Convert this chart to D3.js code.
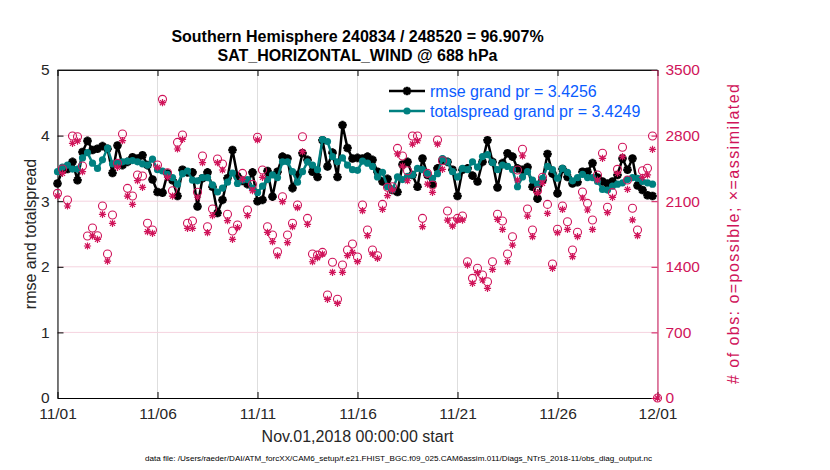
<!DOCTYPE html>
<html lang="en">
<head>
<meta charset="UTF-8">
<title>obs_diag time series</title>
<script src="https://cdn.jsdelivr.net/npm/d3@7"></script>
<style>
    body { margin: 0; background: #fff; }
    svg { font-family: "Liberation Sans", Arial, Helvetica, sans-serif; }
    .tick text { font-size: 15.5px; }
</style>
</head>
<body>
<svg id="chart" width="830" height="470"></svg>
<script>
// 6-hourly bins starting 2018-11-01 00:00 UTC
var startDate = new Date(Date.UTC(2018, 10, 1));
var endDate = new Date(Date.UTC(2018, 11, 1));
var stepHours = 6;

var titleLines = ["Southern Hemisphere 240834 / 248520 = 96.907%", "SAT_HORIZONTAL_WIND @ 688 hPa"];
var xTickLabels = ["11/01", "11/06", "11/11", "11/16", "11/21", "11/26", "12/01"];
var leftTicks = [0, 1, 2, 3, 4, 5];
var rightTicks = [0, 700, 1400, 2100, 2800, 3500];
var legendLabels = ["rmse grand pr = 3.4256", "totalspread grand pr = 3.4249"];

var rmse = [
    3.27, 3.48, 3.49, 3.60, 3.32, 3.75, 3.92, 3.78, 3.80, 3.84, 3.80, 3.43, 3.85, 3.55, 3.60, 3.67,
    3.65, 3.70, 3.55, 3.33, 3.14, 3.13, 3.42, 3.32, 3.08, 3.48, 3.44, 3.44, 2.92, 3.35, 3.44,
    3.22, 2.82, 3.02, 3.35, 3.78, 3.38, 3.31, 3.26, 3.44, 3.00, 3.02, 3.46, 3.07, 3.45, 3.68,
    3.65, 3.20, 3.40, 3.73, 3.63, 3.45, 3.37, 3.93, 3.53, 3.74, 3.37, 4.16, 3.81, 3.65, 3.66,
    3.65, 3.68, 3.63, 3.45, 3.30, 3.34, 3.17, 3.14, 3.56, 3.60, 3.40, 3.22, 3.65, 3.40, 3.26,
    3.50, 3.63, 3.60, 3.48, 3.08, 3.48, 3.50, 3.39, 3.30, 3.60, 3.93, 3.60, 3.21, 3.58, 3.73,
    3.68, 3.50, 3.48, 3.52, 3.22, 3.04, 3.32, 3.72, 3.42, 3.12, 3.49, 3.37, 3.27, 3.29, 3.45,
    3.45, 3.58, 3.36, 3.30, 3.27, 3.30, 3.40, 3.65, 3.48, 3.65, 3.24, 3.17, 3.09, 3.08
];

var totalspread = [
    3.45, 3.52, 3.55, 3.49, 3.49, 3.66, 3.74, 3.58, 3.50, 3.63, 3.81, 3.57, 3.59, 3.60, 3.61, 3.62,
    3.60, 3.57, 3.55, 3.64, 3.48, 3.46, 3.41, 3.36, 3.26, 3.42, 3.46, 3.32, 3.31, 3.36, 3.36,
    3.25, 3.14, 3.20, 3.29, 3.43, 3.27, 3.32, 3.33, 3.20, 3.13, 3.23, 3.33, 3.40, 3.36, 3.60,
    3.60, 3.45, 3.29, 3.45, 3.60, 3.55, 3.48, 3.94, 3.91, 3.68, 3.60, 3.66, 3.55, 3.48, 3.47,
    3.61, 3.58, 3.53, 3.37, 3.44, 3.22, 3.18, 3.37, 3.33, 3.38, 3.40, 3.50, 3.48, 3.42, 3.35,
    3.42, 3.65, 3.60, 3.45, 3.37, 3.50, 3.48, 3.60, 3.52, 3.68, 3.71, 3.59, 3.48, 3.55, 3.53,
    3.48, 3.22, 3.37, 3.45, 3.32, 3.26, 3.35, 3.53, 3.48, 3.35, 3.50, 3.44, 3.31, 3.36, 3.41,
    3.36, 3.36, 3.30, 3.18, 3.17, 3.23, 3.26, 3.28, 3.33, 3.36, 3.35, 3.30, 3.28, 3.26
];

var obsPossible = [
    2184, 2443, 2113, 2796, 2788, 2475, 1729, 1814, 1732, 2049, 1536, 1953, 2504, 2817, 2237, 2155,
    2379, 2369, 1864, 1793, 2486, 3187, 2404, 2212, 2728, 2806, 1864, 1888, 2195, 2582, 1828,
    2017, 2550, 2497, 1960, 1782, 1846, 2397, 2006, 2280, 2782, 2433, 1828, 1739, 1561, 2148,
    1739, 1864, 2059, 2788, 1917, 1536, 1525, 1554, 1099, 1448, 1053, 1419, 1579, 1643, 1505,
    2059, 1792, 1579, 1518, 2066, 2248, 2254, 2664, 2582, 2425, 2795, 2795, 1917, 2397, 2272,
    2753, 2532, 1995, 1881, 1917, 1942, 1454, 1277, 1384, 1312, 1241, 1454, 1960, 1888, 1536,
    1721, 2433, 2654, 2016, 1792, 2212, 2355, 2066, 1430, 1800, 2048, 1881, 1579, 1768, 2198,
    2077, 1899, 2379, 2611, 2035, 2191, 2440, 2675, 2326, 2024, 1792, 2425, 2451, 2795, 0
];

var obsAssimilated = [
    2156, 2397, 2049, 2718, 2742, 2415, 1622, 1729, 1693, 1960, 1461, 1864, 2461, 2746, 2155, 2066,
    2319, 2248, 1775, 1757, 2461, 3151, 2354, 2155, 2657, 2760, 1811, 1810, 2142, 2511, 1764,
    1946, 2511, 2433, 1892, 1693, 1818, 2333, 1946, 2212, 2754, 2355, 1768, 1668, 1518, 2095,
    1657, 1828, 2031, 2628, 1853, 1454, 1497, 1536, 1053, 1341, 1010, 1341, 1519, 1554, 1455,
    1999, 1732, 1536, 1490, 2013, 2159, 2218, 2604, 2475, 2318, 2710, 2745, 1828, 2283, 2194,
    2710, 2440, 1899, 1835, 1899, 1899, 1418, 1224, 1338, 1259, 1170, 1372, 1907, 1799, 1454,
    1632, 2326, 2583, 1941, 1721, 2191, 2291, 1970, 1384, 1764, 2012, 1799, 1508, 1722, 2134,
    2006, 1799, 2326, 2558, 1978, 2141, 2397, 2575, 2226, 1900, 1732, 2354, 2380, 2653, 0
];

(function () {
    var svg = d3.select("#chart");
    var left = 57.5, right = 657.5, top = 70, bottom = 398;
    var crimson = "#d0145a", teal = "#008080", blue = "#0a5cff";

    function timeAt(i) {
        return new Date(startDate.getTime() + i * stepHours * 3600 * 1000);
    }

    var x = d3.scaleUtc().domain([startDate, endDate]).range([left, right]);
    var yL = d3.scaleLinear().domain([0, 5]).range([bottom, top]);
    var yR = d3.scaleLinear().domain([0, 3500]).range([bottom, top]);
    var parseTick = d3.utcParse("%m/%d/%Y");
    var tickDates = xTickLabels.map(function (t) { return parseTick(t + "/2018"); });

    // grid
    svg.append("g").selectAll("line").data(tickDates).enter().append("line")
        .attr("x1", function (d) { return x(d); }).attr("x2", function (d) { return x(d); })
        .attr("y1", top).attr("y2", bottom)
        .attr("stroke", "#dedede").attr("stroke-width", 1);
    svg.append("g").selectAll("line").data(rightTicks.slice(1, -1)).enter().append("line")
        .attr("x1", left).attr("x2", right)
        .attr("y1", function (d) { return yR(d); }).attr("y2", function (d) { return yR(d); })
        .attr("stroke", "#f5d3df").attr("stroke-width", 1);

    // axes
    var xAxis = svg.append("g").attr("transform", "translate(0," + bottom + ")")
        .call(d3.axisBottom(x).tickValues(tickDates).tickFormat(function (d, i) { return xTickLabels[i]; })
            .tickSizeInner(-6).tickSizeOuter(0).tickPadding(10));
    xAxis.selectAll("text").attr("fill", "#262626");
    svg.append("g").attr("transform", "translate(0," + top + ")")
        .call(d3.axisTop(x).tickValues(tickDates).tickFormat("").tickSizeInner(-6).tickSizeOuter(0));

    var lAxis = svg.append("g").attr("transform", "translate(" + left + ",0)")
        .call(d3.axisLeft(yL).tickValues(leftTicks).tickFormat(d3.format("d"))
            .tickSizeInner(-6).tickSizeOuter(0).tickPadding(8));
    lAxis.selectAll("text").attr("fill", "#262626");

    var rAxis = svg.append("g").attr("transform", "translate(" + right + ",0)")
        .call(d3.axisRight(yR).tickValues(rightTicks).tickFormat(d3.format("d"))
            .tickSizeInner(-6).tickSizeOuter(0).tickPadding(8));
    rAxis.select(".domain").attr("stroke", crimson);
    rAxis.selectAll(".tick line").attr("stroke", crimson);
    rAxis.selectAll("text").attr("fill", crimson);

    function star(s) {
        var a = s * 0.7071;
        return "M" + (-s) + ",0L" + s + ",0M0," + (-s) + "L0," + s +
            "M" + (-a) + "," + (-a) + "L" + a + "," + a + "M" + (-a) + "," + a + "L" + a + "," + (-a);
    }

    // rmse and spread lines
    var valueLine = d3.line().x(function (d, i) { return x(timeAt(i)); }).y(function (d) { return yL(d); });
    svg.append("path").datum(rmse).attr("d", valueLine)
        .attr("fill", "none").attr("stroke", "#000").attr("stroke-width", 2.5);
    svg.append("g").selectAll("path").data(rmse).enter().append("path")
        .attr("transform", function (d, i) { return "translate(" + x(timeAt(i)) + "," + yL(d) + ")"; })
        .attr("d", star(4.3)).attr("stroke", "#000").attr("stroke-width", 2.6).attr("fill", "none");

    svg.append("path").datum(totalspread).attr("d", valueLine)
        .attr("fill", "none").attr("stroke", teal).attr("stroke-width", 2.5);
    svg.append("g").selectAll("circle").data(totalspread).enter().append("circle")
        .attr("cx", function (d, i) { return x(timeAt(i)); })
        .attr("cy", function (d) { return yL(d); })
        .attr("r", 3.6).attr("fill", teal);

    // obs counts
    svg.append("g").selectAll("circle").data(obsPossible).enter().append("circle")
        .attr("cx", function (d, i) { return x(timeAt(i)); })
        .attr("cy", function (d) { return yR(d); })
        .attr("r", 4).attr("fill", "none").attr("stroke", crimson).attr("stroke-width", 1.1);
    svg.append("g").selectAll("path").data(obsAssimilated).enter().append("path")
        .attr("transform", function (d, i) { return "translate(" + x(timeAt(i)) + "," + yR(d) + ")"; })
        .attr("d", star(3.6)).attr("stroke", crimson).attr("stroke-width", 1.2).attr("fill", "none");

    // box
    svg.append("line").attr("x1", left).attr("x2", right).attr("y1", top).attr("y2", top)
        .attr("stroke", "#262626").attr("stroke-width", 1);

    // legend
    var legend = svg.append("g");
    [0, 1].forEach(function (i) {
        var ly = 91 + i * 20;
        var color = i === 0 ? "#000" : teal;
        legend.append("line").attr("x1", 389).attr("x2", 425).attr("y1", ly).attr("y2", ly)
            .attr("stroke", color).attr("stroke-width", 2.5);
        if (i === 0) {
            legend.append("path").attr("transform", "translate(407," + ly + ")")
                .attr("d", star(4.3)).attr("stroke", "#000").attr("stroke-width", 2.6);
        } else {
            legend.append("circle").attr("cx", 407).attr("cy", ly).attr("r", 3.6).attr("fill", teal);
        }
        legend.append("text").attr("x", 430).attr("y", ly).attr("dy", "0.36em")
            .attr("font-size", 16).attr("fill", blue).text(legendLabels[i]);
    });

    // titles and labels
    svg.append("text").attr("x", 357.5).attr("y", 42).attr("text-anchor", "middle")
        .attr("font-size", 16).attr("font-weight", "bold").attr("fill", "#000").text(titleLines[0]);
    svg.append("text").attr("x", 357.5).attr("y", 61).attr("text-anchor", "middle")
        .attr("font-size", 16).attr("font-weight", "bold").attr("fill", "#000").text(titleLines[1]);

    svg.append("text").attr("x", 357.5).attr("y", 442).attr("text-anchor", "middle")
        .attr("font-size", 16).attr("fill", "#262626").text("Nov.01,2018 00:00:00 start");
    svg.append("text").attr("transform", "translate(36,234) rotate(-90)").attr("text-anchor", "middle")
        .attr("font-size", 16).attr("fill", "#262626").text("rmse and totalspread");
    svg.append("text").attr("transform", "translate(739,234) rotate(-90)").attr("text-anchor", "middle")
        .attr("font-size", 16).attr("fill", crimson)
        .attr("textLength", 300).attr("lengthAdjust", "spacing")
        .text("# of obs: o=possible; \u00d7=assimilated");

    svg.append("text").attr("x", 398.5).attr("y", 461).attr("text-anchor", "middle")
        .attr("font-size", 8.1).attr("fill", "#000")
        .text("data file: /Users/raeder/DAI/ATM_forcXX/CAM6_setup/f.e21.FHIST_BGC.f09_025.CAM6assim.011/Diags_NTrS_2018-11/obs_diag_output.nc");
})();
</script>
</body>
</html>
